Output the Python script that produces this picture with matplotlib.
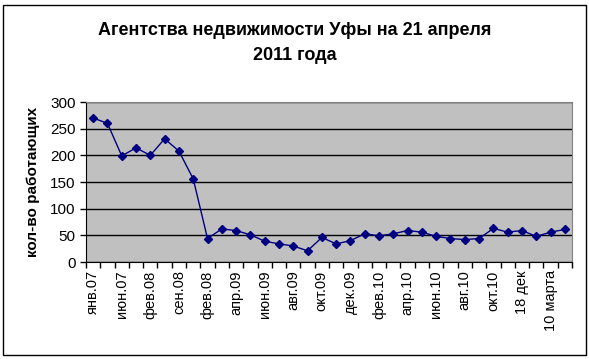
import matplotlib.pyplot as plt
from matplotlib.patches import Rectangle

# values (number of working agencies)
values = [270, 260, 199, 214, 200, 231, 208, 156, 44, 62,
          59, 51, 39, 34, 30, 21, 46, 34, 40, 53,
          49, 53, 59, 56, 48, 44, 42, 44, 63, 56,
          59, 48, 56, 61]

# labels shown under every other point
tick_labels = ['янв.07', 'июн.07', 'фев.08', 'сен.08', 'фев.08', 'апр.09',
               'июн.09', 'авг.09', 'окт.09', 'дек.09', 'фев.10', 'апр.10',
               'июн.10', 'авг.10', 'окт.10', '18 дек', '10 марта']

plt.rcParams['font.family'] = ['Liberation Sans', 'DejaVu Sans']

fig = plt.figure(figsize=(5.89, 3.59), dpi=100)
ax = fig.add_axes([86 / 589, 97 / 359, 486 / 589, 160 / 359])

# chart border
fig.patches.append(Rectangle((3 / 589, 4 / 359), 583 / 589, 350 / 359,
                             transform=fig.transFigure, fill=False,
                             edgecolor='black', linewidth=1.0))

x = range(len(values))
ax.set_facecolor('#c0c0c0')
ax.plot(x, values, color='#000080', linewidth=1.0, marker='D',
        markersize=4.5, markerfacecolor='#000080', markeredgecolor='#000080',
        zorder=3)

ax.set_xlim(-0.5, len(values) - 0.5)
ax.set_ylim(0, 300)
ax.set_yticks(range(0, 301, 50))
ax.yaxis.grid(True, color='black', linewidth=1.0)
ax.set_axisbelow(True)

# tick marks at category boundaries, labels on every other point
ax.set_xticks([i - 0.5 for i in range(len(values) + 1)], minor=True)
ax.set_xticks(range(0, len(values), 2))
ax.set_xticklabels(tick_labels, rotation=90, fontsize=10.5)
ax.tick_params(axis='x', which='major', length=0, pad=6)
ax.tick_params(axis='x', which='minor', length=4, width=1, direction='out')
ax.tick_params(axis='y', length=4, width=1, direction='out', labelsize=11)

for side in ['top', 'right']:
    ax.spines[side].set_color('#808080')
for side in ['left', 'bottom']:
    ax.spines[side].set_color('black')

ax.set_ylabel('кол-во работающих', fontsize=11, fontweight='bold', labelpad=7)

fig.suptitle('Агентства недвижимости Уфы на 21 апреля\n2011 года',
             x=0.50, y=1 - 22 / 359, fontsize=13, fontweight='bold',
             va='top', linespacing=1.65)

fig.savefig('out.png', dpi=100)
